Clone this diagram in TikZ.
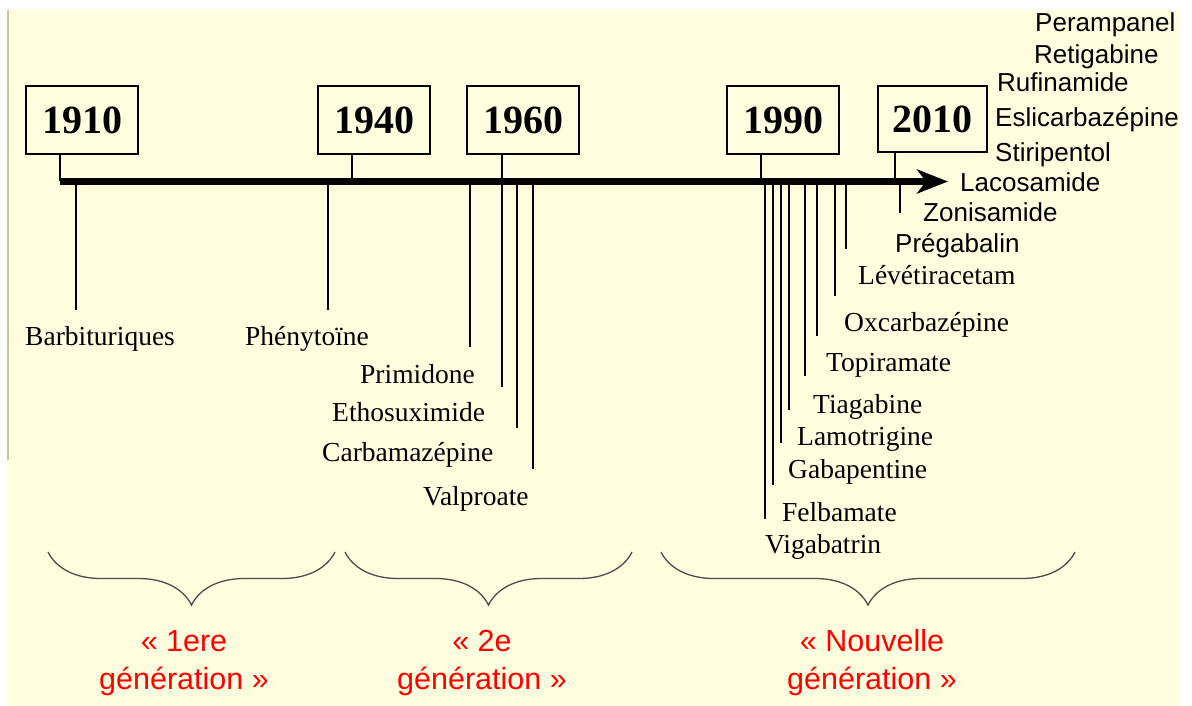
\documentclass[tikz,border=0pt]{standalone}
\usepackage{fontspec}
\setmainfont{Liberation Serif}
\setsansfont{Liberation Sans}
\usetikzlibrary{arrows.meta}
\usetikzlibrary{decorations.pathreplacing}

\definecolor{bgcol}{RGB}{255,255,224}
\definecolor{edgecol}{RGB}{200,200,140}

\begin{document}
\begin{tikzpicture}[x=1pt,y=-1pt]
	\tikzstyle{year}=[draw,line width=1.6pt,minimum width=112pt,minimum height=68pt,inner sep=0pt,font=\fontsize{40}{48}\selectfont\bfseries]
	\tikzstyle{drug}=[anchor=base west,inner sep=0pt,font=\fontsize{27.5}{33}\selectfont]
	\tikzstyle{newdrug}=[anchor=base west,inner sep=0pt,font=\sffamily\fontsize{26}{31}\selectfont]
	\tikzstyle{gen}=[text=red,align=center,inner sep=0pt,font=\sffamily\fontsize{30.5}{38}\selectfont]
	\tikzstyle{tick}=[line width=1.8pt]
	\tikzstyle{brace}=[decorate,decoration={brace,amplitude=53pt},line width=1.3pt,draw=black!70]
	
	\useasboundingbox (0,0) rectangle (1192,706);
	\fill[bgcol] (8,10) rectangle (1179,706);
	\draw[edgecol,line width=1.2pt] (8,10) -- (8,460);
	
	\coordinate (o) at (60,181.5);
	\coordinate (e) at (948,181.5);
	\draw[line width=6.5pt,-{Stealth[length=31pt,width=24pt,inset=9pt]}] (o) -- (e);
	
	\node[year](y1910) at (82,120){1910};
	\node[year](y1940) at (374,120){1940};
	\node[year](y1960) at (523,120){1960};
	\node[year](y1990) at (783,120){1990};
	\node[year,minimum width=109pt,minimum height=66pt](y2010) at (932.5,119){2010};
	
	\coordinate (k1940) at (352,181.5);
	\coordinate (k1960) at (502,181.5);
	\coordinate (k1990) at (761,181.5);
	\coordinate (k2010) at (895,181.5);
	
	\draw[tick] (y1910.south -| o) -- (o);
	\draw[tick] (y1940.south -| k1940) -- (k1940);
	\draw[tick] (y1960.south -| k1960) -- (k1960);
	\draw[tick] (y1990.south -| k1990) -- (k1990);
	\draw[tick] (y2010.south -| k2010) -- (k2010);
	
	\coordinate (t1) at (76,310);
	\coordinate (t2) at (328,310);
	\coordinate (t3) at (470,347);
	\coordinate (t4) at (502,387);
	\coordinate (t5) at (517,428);
	\coordinate (t6) at (533,469);
	
	\coordinate (t7) at (765,519);
	\coordinate (t8) at (773,485);
	\coordinate (t9) at (781,443);
	\coordinate (t10) at (789,410);
	\coordinate (t11) at (805,376);
	\coordinate (t12) at (817,336);
	\coordinate (t13) at (835,296);
	\coordinate (t14) at (846,249);
	\coordinate (t15) at (900,213);
	
	\draw[tick] (t1 |- o) -- (t1);
	\draw[tick] (t2 |- o) -- (t2);
	\draw[tick] (t3 |- o) -- (t3);
	\draw[tick] (t4 |- o) -- (t4);
	\draw[tick] (t5 |- o) -- (t5);
	\draw[tick] (t6 |- o) -- (t6);
	
	\draw[tick] (t7 |- o) -- (t7);
	\draw[tick] (t8 |- o) -- (t8);
	\draw[tick] (t9 |- o) -- (t9);
	\draw[tick] (t10 |- o) -- (t10);
	\draw[tick] (t11 |- o) -- (t11);
	\draw[tick] (t12 |- o) -- (t12);
	\draw[tick] (t13 |- o) -- (t13);
	\draw[tick] (t14 |- o) -- (t14);
	\draw[line width=1.2pt] (t15 |- o) -- (t15);
	
	\node[drug](barb) at (25,345){Barbituriques};
	\node[drug](pheny) at (245,345){Phénytoïne};
	\node[drug](primi) at (360,383){Primidone};
	\node[drug](etho) at (332,421){Ethosuximide};
	\node[drug](carba) at (322,461){Carbamazépine};
	\node[drug](valpro) at (423,505){Valproate};
	
	\node[drug](viga) at (765,553){Vigabatrin};
	\node[drug](felba) at (782,521){Felbamate};
	\node[drug](gaba) at (788,478){Gabapentine};
	\node[drug](lamo) at (797,445){Lamotrigine};
	\node[drug](tiaga) at (813,413){Tiagabine};
	\node[drug](topi) at (826,371){Topiramate};
	\node[drug](oxca) at (844,331){Oxcarbazépine};
	\node[drug](leve) at (858,284){Lévétiracetam};
	
	\node[newdrug](prega) at (895,252){Prégabalin};
	\node[newdrug](zoni) at (923,221){Zonisamide};
	\node[newdrug](laco) at (960,191){Lacosamide};
	\node[newdrug](stiri) at (995,161){Stiripentol};
	\node[newdrug](eslic) at (995,127){Eslicarbazépine};
	\node[newdrug](rufi) at (997,92){Rufinamide};
	\node[newdrug](retig) at (1034,64){Retigabine};
	\node[newdrug](peram) at (1035,32){Perampanel};
	
	\draw[brace] (335,552) -- (48,552);
	\draw[brace] (632,552) -- (345,552);
	\draw[brace] (1075,552) -- (661,552);
	
	\node[gen](gen1) at (184,663){« 1ere\\génération »};
	\node[gen](gen2) at (482,663){« 2e\\génération »};
	\node[gen](gen3) at (872,663){« Nouvelle\\génération »};
\end{tikzpicture}
\end{document}
